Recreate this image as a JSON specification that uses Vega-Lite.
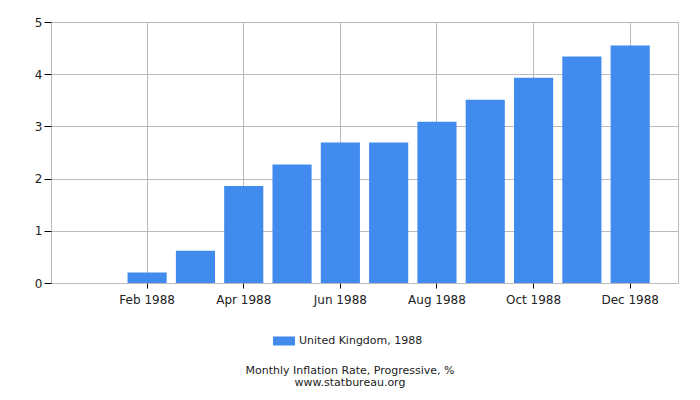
{
  "$schema": "https://vega.github.io/schema/vega-lite/v6.json",
  "autosize": "none",
  "width": 627,
  "height": 261,
  "padding": {"left": 51, "top": 22, "right": 22, "bottom": 117},
  "background": "white",
  "config": {
    "font": "DejaVu Sans",
    "view": {"stroke": "#bbbbbb", "strokeWidth": 1}
  },
  "title": {
    "text": "Monthly Inflation Rate, Progressive, %",
    "subtitle": "www.statbureau.org",
    "orient": "bottom",
    "anchor": "middle",
    "frame": "group",
    "dx": -14.5,
    "offset": 19,
    "fontSize": 11,
    "fontWeight": "normal",
    "color": "#222222",
    "subtitleFontSize": 11,
    "subtitleColor": "#222222",
    "subtitlePadding": 1
  },
  "data": {
    "values": [
      {"month": "Jan 1988", "value": 0, "series": "United Kingdom, 1988"},
      {"month": "Feb 1988", "value": 0.2, "series": "United Kingdom, 1988"},
      {"month": "Mar 1988", "value": 0.62, "series": "United Kingdom, 1988"},
      {"month": "Apr 1988", "value": 1.86, "series": "United Kingdom, 1988"},
      {"month": "May 1988", "value": 2.27, "series": "United Kingdom, 1988"},
      {"month": "Jun 1988", "value": 2.69, "series": "United Kingdom, 1988"},
      {"month": "Jul 1988", "value": 2.69, "series": "United Kingdom, 1988"},
      {"month": "Aug 1988", "value": 3.09, "series": "United Kingdom, 1988"},
      {"month": "Sep 1988", "value": 3.51, "series": "United Kingdom, 1988"},
      {"month": "Oct 1988", "value": 3.93, "series": "United Kingdom, 1988"},
      {"month": "Nov 1988", "value": 4.34, "series": "United Kingdom, 1988"},
      {"month": "Dec 1988", "value": 4.55, "series": "United Kingdom, 1988"}
    ]
  },
  "mark": {"type": "bar"},
  "encoding": {
    "x": {
      "field": "month",
      "type": "ordinal",
      "scale": {
        "domain": ["Jan 1988", "Feb 1988", "Mar 1988", "Apr 1988", "May 1988", "Jun 1988", "Jul 1988", "Aug 1988", "Sep 1988", "Oct 1988", "Nov 1988", "Dec 1988"],
        "paddingInner": 0.19,
        "paddingOuter": 0.585
      },
      "axis": {
        "title": null,
        "values": ["Feb 1988", "Apr 1988", "Jun 1988", "Aug 1988", "Oct 1988", "Dec 1988"],
        "labelAngle": 0,
        "labelFontSize": 12,
        "labelColor": "#222222",
        "labelPadding": 6,
        "grid": true,
        "gridColor": "#bbbbbb",
        "gridWidth": 1,
        "tickColor": "#000000",
        "tickSize": 5,
        "domain": false
      }
    },
    "y": {
      "field": "value",
      "type": "quantitative",
      "scale": {"domain": [0, 5], "nice": false},
      "axis": {
        "title": null,
        "values": [0, 1, 2, 3, 4, 5],
        "labelFontSize": 12,
        "labelColor": "#222222",
        "labelPadding": 2,
        "grid": true,
        "gridColor": "#bbbbbb",
        "gridWidth": 1,
        "tickColor": "#000000",
        "tickSize": 7,
        "domain": false
      }
    },
    "color": {
      "field": "series",
      "type": "nominal",
      "scale": {"range": ["#418AEE"]},
      "legend": {
        "title": null,
        "orient": "none",
        "legendX": 222,
        "legendY": 308,
        "direction": "horizontal",
        "symbolType": "M-1,-0.41h2v0.82h-2z",
        "symbolSize": 484,
        "symbolStrokeWidth": 0,
        "labelFontSize": 11,
        "labelColor": "#222222",
        "labelOffset": 4
      }
    }
  }
}
